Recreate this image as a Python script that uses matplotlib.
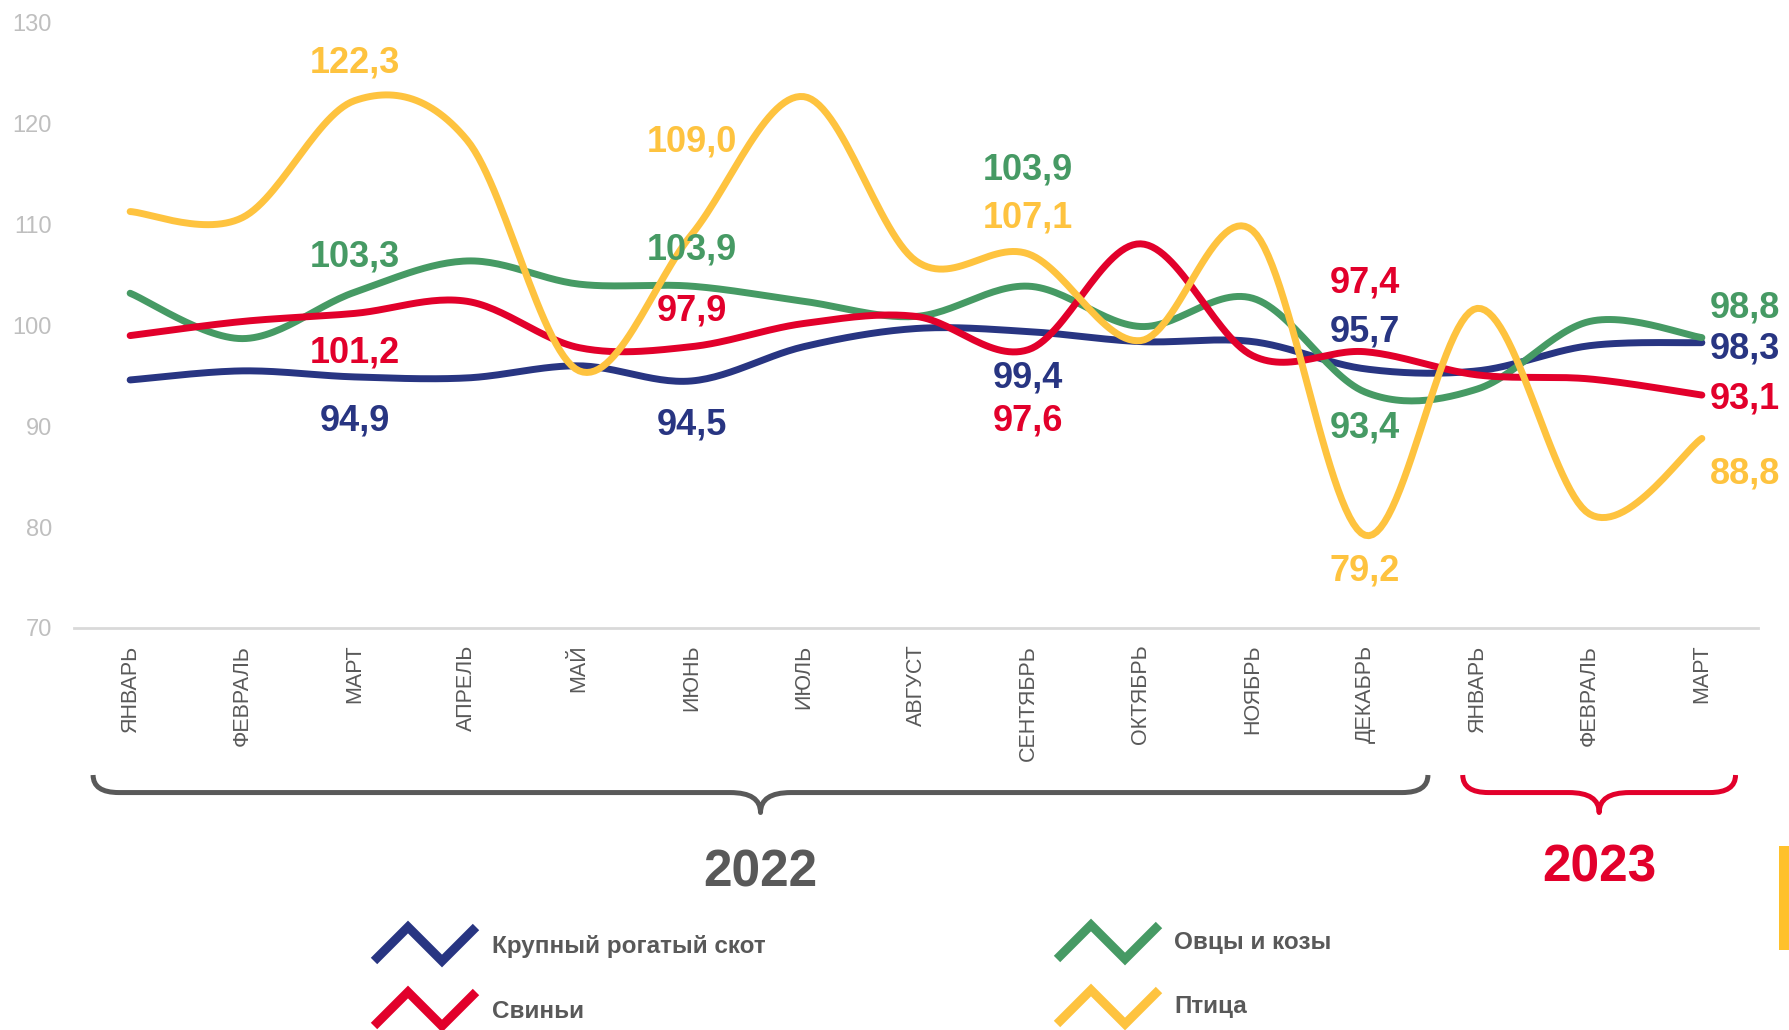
import numpy as np
import matplotlib
matplotlib.use("Agg")
import matplotlib.pyplot as plt
from matplotlib.path import Path
from matplotlib.patches import PathPatch, Rectangle
from matplotlib.lines import Line2D
from matplotlib.transforms import blended_transform_factory

plt.rcParams['font.family'] = ['Liberation Sans', 'DejaVu Sans']

# --- данные ---
months = ['ЯНВАРЬ', 'ФЕВРАЛЬ', 'МАРТ', 'АПРЕЛЬ', 'МАЙ', 'ИЮНЬ', 'ИЮЛЬ', 'АВГУСТ',
          'СЕНТЯБРЬ', 'ОКТЯБРЬ', 'НОЯБРЬ', 'ДЕКАБРЬ', 'ЯНВАРЬ', 'ФЕВРАЛЬ', 'МАРТ']
cattle = [94.6, 95.5, 94.9, 94.8, 96.0, 94.5, 97.9, 99.7, 99.4, 98.4, 98.4, 95.7, 95.5, 98.0, 98.3]
sheep = [103.2, 98.7, 103.3, 106.4, 104.1, 103.9, 102.4, 100.9, 103.9, 99.9, 102.7, 93.4, 93.7, 100.4, 98.8]
pigs = [99.0, 100.4, 101.2, 102.4, 97.8, 97.9, 100.2, 100.9, 97.6, 108.1, 97.0, 97.4, 95.1, 94.7, 93.1]
poultry = [111.3, 110.7, 122.3, 118.4, 95.5, 109.0, 122.7, 106.4, 107.1, 98.5, 109.4, 79.2, 101.7, 81.3, 88.8]
names = ['Крупный рогатый скот', 'Овцы и козы', 'Свиньи', 'Птица']
years = ['2022', '2023']

series = [cattle, sheep, pigs, poultry]
colors = ['#283582', '#469A64', '#E2002B', '#FEC33F']
gray = '#595959'

# подписи значений: (серия, месяц, сдвиг по y, выравнивание)
labels = [
    (3, 2, 3.7, 'center'), (1, 2, 3.5, 'center'), (2, 2, -3.9, 'center'), (0, 2, -4.4, 'center'),
    (3, 5, 9.2, 'center'), (1, 5, 3.6, 'center'), (2, 5, 3.5, 'center'), (0, 5, -4.4, 'center'),
    (1, 8, 11.5, 'center'), (3, 8, 3.6, 'center'), (0, 8, -4.6, 'center'), (2, 8, -7.1, 'center'),
    (2, 11, 6.8, 'center'), (0, 11, 3.7, 'center'), (1, 11, -3.55, 'center'), (3, 11, -3.5, 'center'),
    (1, 14, 2.9, 'left'), (0, 14, -0.6, 'left'), (2, 14, -0.4, 'left'), (3, 14, -3.5, 'left'),
]


# сглаживание как в Excel (кривые Безье через точки)
def smooth(x, y, n=30):
    pts = np.column_stack([x, y]).astype(float)
    out = [pts[0]]
    t = np.linspace(0, 1, n)[1:, None]
    for i in range(len(pts) - 1):
        p0 = pts[i - 1] if i > 0 else pts[i]
        p1, p2 = pts[i], pts[i + 1]
        p3 = pts[i + 2] if i + 2 < len(pts) else pts[i + 1]
        c1 = p1 + (p2 - p0) / 6
        c2 = p2 - (p3 - p1) / 6
        seg = (1 - t) ** 3 * p1 + 3 * (1 - t) ** 2 * t * c1 + 3 * (1 - t) * t ** 2 * c2 + t ** 3 * p2
        out.extend(seg)
    return np.array(out)


fig = plt.figure(figsize=(17.9, 10.3), dpi=100)
ax = fig.add_axes([74 / 1790, 1 - 628 / 1030, (1758 - 74) / 1790, (628 - 23) / 1030])

x = np.arange(len(months))
for k, (vals, c) in enumerate(zip(series, colors)):
    curve = smooth(x, vals)
    ax.plot(curve[:, 0], curve[:, 1], color=c, lw=5, solid_capstyle='round', zorder=2 + k, clip_on=False)

for s, m, dy, ha in labels:
    v = series[s][m]
    dx = 0.07 if ha == 'left' else 0
    ax.text(m + dx, v + dy, f"{v:.1f}".replace('.', ','), color=colors[s], fontsize=26,
            fontweight='bold', ha=ha, va='center', zorder=10)

ax.set_xlim(-0.5, 14.5)
ax.set_ylim(70, 130)
ax.set_yticks(range(70, 131, 10))
ax.set_xticks(x)
ax.set_xticklabels(months, rotation=90, fontsize=15.5, color=gray)
ax.tick_params(axis='x', length=0, pad=12)
ax.tick_params(axis='y', length=0, pad=16, labelsize=17, labelcolor='#BFBFBF')
for side in ['left', 'right', 'top']:
    ax.spines[side].set_visible(False)
ax.spines['bottom'].set_color('#D9D9D9')
ax.spines['bottom'].set_linewidth(2)

# фигурные скобки под подписями месяцев
tr = blended_transform_factory(ax.transData, ax.transAxes)


def brace(xl, xr, color):
    xm = (xl + xr) / 2
    y_end, y_mid, y_tip = -0.243, -0.272, -0.305
    r, rt = 0.23, 0.27
    verts = [(xl, y_end), (xl, y_mid), (xl + r, y_mid),
             (xm - rt, y_mid), (xm, y_mid), (xm, y_tip),
             (xm, y_mid), (xm + rt, y_mid),
             (xr - r, y_mid), (xr, y_mid), (xr, y_end)]
    codes = [Path.MOVETO, Path.CURVE3, Path.CURVE3,
             Path.LINETO, Path.CURVE3, Path.CURVE3,
             Path.CURVE3, Path.CURVE3,
             Path.LINETO, Path.CURVE3, Path.CURVE3]
    p = PathPatch(Path(verts, codes), transform=tr, fill=False, edgecolor=color,
                  lw=3.6, clip_on=False, capstyle='butt', joinstyle='round')
    ax.add_patch(p)
    return xm


xm1 = brace(-0.33, 11.56, gray)
xm2 = brace(11.87, 14.3, colors[2])
ax.text(xm1, -0.405, years[0], transform=tr, ha='center', va='center',
        fontsize=37, fontweight='bold', color=gray)
ax.text(xm2, -0.397, years[1], transform=tr, ha='center', va='center',
        fontsize=37, fontweight='bold', color=colors[2])

# легенда из "зигзагов"
W, H = 1790, 1030


def zig(x0, ytop, ybot, color):
    xs = [x0 + i * 34 for i in range(4)]
    ys = [ybot, ytop, ybot, ytop]
    fig.add_artist(Line2D([v / W for v in xs], [1 - v / H for v in ys], color=color,
                          lw=6.5, solid_capstyle='butt', solid_joinstyle='miter'))


leg = [(374, 927, 961, 492, 947), (1057, 925, 959, 1174, 942),
       (374, 992, 1026, 492, 1012), (1057, 990, 1024, 1174, 1007)]
for (zx, yt, yb, tx, ty), name, c in zip(leg, names, colors):
    zig(zx, yt, yb, c)
    fig.text(tx / W, 1 - ty / H, name, fontsize=17.5, fontweight='bold', color=gray,
             ha='left', va='center')

fig.add_artist(Rectangle((1779 / W, 1 - 950 / H), 11 / W, 104 / H, transform=fig.transFigure,
                         facecolor='#FFC12B', edgecolor='none'))

fig.savefig('out.png', dpi=100)
